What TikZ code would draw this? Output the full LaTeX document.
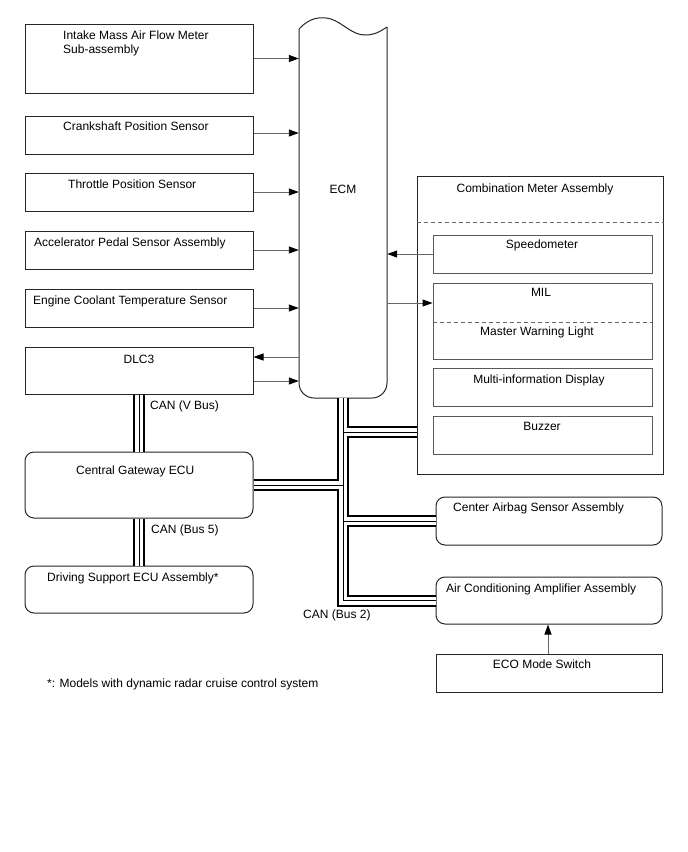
\documentclass[tikz,border=0pt]{standalone}
\usepackage{fontspec}
\setmainfont{Liberation Sans}
\usetikzlibrary{arrows.meta,positioning,calc}

\begin{document}
\begin{tikzpicture}[x=1pt,y=-1pt,
  box/.style={draw=black!85, line width=1pt, inner sep=0pt, minimum width=228pt},
  rbox/.style={box, rounded corners=9pt},
  subbox/.style={draw=black!65, line width=0.9pt, inner sep=0pt, minimum width=219pt, minimum height=38pt},
  txt/.style={inner sep=0pt, font=\fontsize{12}{14}\selectfont},
  sig/.style={draw=black!60, line width=0.9pt, -{Triangle[length=10pt,width=7pt,color=black]}},
  sep/.style={draw=black!60, line width=0.9pt, dash pattern=on 4pt off 3pt},
]
\useasboundingbox (0,0) rectangle (688,852);

% Sensors
\node[box, minimum height=69pt] (maf) at (139,58.5) {};
\node[box, minimum height=38pt] (crank) at (139,135) {};
\node[box, minimum height=38pt] (tps) at (139,192) {};
\node[box, minimum height=38pt] (apps) at (139,250) {};
\node[box, minimum height=38pt] (ect) at (139,308) {};
\node[box, minimum height=47pt] (dlc) at (139,370.5) {};
\node[rbox, minimum height=66pt] (cgw) at (139,485) {};
\node[rbox, minimum height=47pt] (dsu) at (139,589.5) {};

\node[txt, anchor=base west] (maftxt) at (63,39) {Intake Mass Air Flow Meter};
\node[txt, anchor=base west] (maftxtb) at (63,53) {Sub-assembly};
\node[txt, anchor=base west] (cranktxt) at (63,130) {Crankshaft Position Sensor};
\node[txt, anchor=base west] (tpstxt) at (68,188) {Throttle Position Sensor};
\node[txt, anchor=base west] (appstxt) at (34,246) {Accelerator Pedal Sensor Assembly};
\node[txt, anchor=base west] (ecttxt) at (33,304) {Engine Coolant Temperature Sensor};
\node[txt, anchor=base] (dlctxt) at (139,363) {DLC3};
\node[txt, anchor=base west] (cgwtxt) at (76,474) {Central Gateway ECU};
\node[txt, anchor=base west] (dsutxt) at (47,581) {Driving Support ECU Assembly*};

% ECM
\node[inner sep=0pt, minimum width=88pt, minimum height=370pt] (ecm) at (343,213) {};
\draw[line width=1pt, black!85] (299,29) .. controls (309,18) and (320,16) .. (331,19)
  .. controls (343,23) and (352,35) .. (365,35) .. controls (375,35) and (381,31) .. (387,27);
\draw[line width=1pt, black!85, rounded corners=15pt] (387,27) -- (387,398) -- (299,398) -- (299,29);
\node[txt, anchor=base] (ecmtxt) at (343,193) {ECM};
\coordinate (bustop) at (ecm.south);

% Combination meter
\node[draw=black!85, line width=1pt, inner sep=0pt, minimum width=246pt, minimum height=298pt] (meter) at (540,325) {};
\draw[sep] ([yshift=-47pt]meter.north west) -- ([yshift=-47pt]meter.north east);
\node[subbox] (speedo) at (542.5,254) {};
\node[subbox, minimum height=76pt] (mil) at (542.5,321) {};
\draw[sep] ([yshift=-1pt]mil.west) -- ([yshift=-1pt]mil.east);
\node[subbox] (mid) at (542.5,387) {};
\node[subbox] (buzz) at (542.5,435) {};

\node[txt, anchor=base] (metertxt) at (535,192) {Combination Meter Assembly};
\node[txt, anchor=base] (speedotxt) at (542,248) {Speedometer};
\node[txt, anchor=base] (miltxt) at (541,296) {MIL};
\node[txt, anchor=base] (mwltxt) at (537,335) {Master Warning Light};
\node[txt, anchor=base] (midtxt) at (539,383) {Multi-information Display};
\node[txt, anchor=base] (buzztxt) at (542,430) {Buzzer};

% Other ECUs
\node[rbox, minimum width=226pt, minimum height=48pt] (airbag) at (549,521) {};
\node[rbox, minimum width=226pt, minimum height=47pt] (ac) at (549,600.5) {};
\node[box, minimum width=226pt, minimum height=38pt] (eco) at (549,673) {};
\node[txt, anchor=base west] (airbagtxt) at (453,511) {Center Airbag Sensor Assembly};
\node[txt, anchor=base west] (actxt) at (446,592) {Air Conditioning Amplifier Assembly};
\node[txt, anchor=base] (ecotxt) at (542,668) {ECO Mode Switch};

% Signal lines
\draw[sig] (maf.east) -- (maf.east -| ecm.west);
\draw[sig] ([yshift=2pt]crank.east) -- ([yshift=2pt]crank.east -| ecm.west);
\draw[sig] (tps.east) -- (tps.east -| ecm.west);
\draw[sig] (apps.east) -- (apps.east -| ecm.west);
\draw[sig] (ect.east) -- (ect.east -| ecm.west);
\draw[sig] ([yshift=13.5pt]dlc.east -| ecm.west) -- ([yshift=13.5pt]dlc.east);
\draw[sig] ([yshift=-10.5pt]dlc.east) -- ([yshift=-10.5pt]dlc.east -| ecm.west);
\draw[sig] (speedo.west) -- (speedo.west -| ecm.east);
\draw[sig] ([yshift=18pt]mil.west -| ecm.east) -- ([yshift=18pt]mil.west);
\draw[sig] (eco.north -| 548,0) -- (ac.south -| 548,0);

% CAN buses
\coordinate (mtap) at (343,432);
\foreach \bw/\bc in {12/black, 8/white, 1/black}{
  \draw[line width=\bw pt, \bc] (dlc.south) -- (cgw.north)
    (cgw.south) -- (dsu.north)
    (bustop) -- (bustop |- ac.west) -- (ac.west)
    (mtap) -- (mtap -| meter.west)
    (bustop |- cgw.east) -- (cgw.east)
    (bustop |- airbag.west) -- (airbag.west);
}
\node[txt, anchor=base west] (canv) at (150,409) {CAN (V Bus)};
\node[txt, anchor=base west] (can5) at (151,533) {CAN (Bus 5)};
\node[txt, anchor=base west] (can2) at (303,618) {CAN (Bus 2)};

\node[txt, anchor=base west] (note) at (47,687) {*: Models with dynamic radar cruise control system};
\end{tikzpicture}
\end{document}
